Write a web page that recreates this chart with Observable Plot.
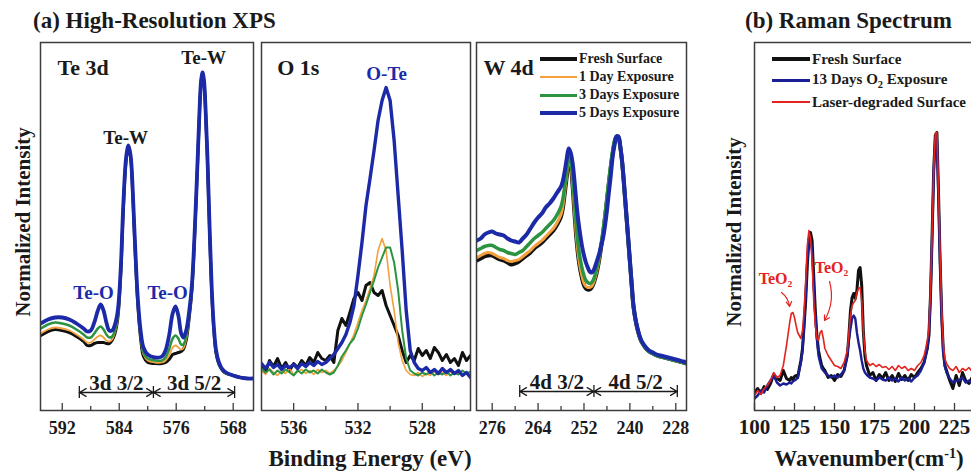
<!DOCTYPE html>
<html>
<head>
<meta charset="utf-8">
<title>High-Resolution XPS and Raman Spectrum</title>
<script src="https://cdn.jsdelivr.net/npm/d3@7"></script>
<script src="https://cdn.jsdelivr.net/npm/@observablehq/plot@0.6"></script>
<style>
html, body { margin:0; padding:0; background:#fff; overflow:hidden; }
#root { position:relative; width:971px; height:473px; overflow:hidden; background:#fff;
  font-family:"Liberation Serif","Times New Roman",Times,serif; font-weight:bold; color:#1a1a1a; }
.t { position:absolute; white-space:nowrap; line-height:1; }
.c { transform:translate(-50%,-50%); }
.v { transform:translate(-50%,-50%) rotate(-90deg); }
svg text { font-weight: bold; }
</style>
</head>
<body>
<div id="root"></div>
<script>
// ---------------- DATA ----------------
// (a) Te 3d — binding energy (eV) and normalized intensity (a.u.)
const te3dEnergy = [595,594,593,592,591,590,589,588.5,588,587.5,587,586.6,586.2,585.8,585.4,585,584.6,584.2,583.8,583.4,583,582.7,582.4,582.1,581.8,581.4,581,580.6,580,579,578,577.5,577,576.5,576.1,575.7,575.3,575,574.6,574.2,573.8,573.4,573,572.7,572.5,572.3,572.1,571.9,571.6,571.3,571,570.7,570.4,570,569.5,569,568,567,566,565.2];
const te3dFresh = [75,79,81,80,78,74,69,65,65,67, 68,68,68,67,67,70,77,92,134,205, 252,263,253,216,165,107,72,54,48,47, 47,48,51,56,57,58,59,61,70,91, 120,176,247,303,329,337,329,303,247,176, 116,79,57,46,40,37,35,33,32,32];
const te3dDay1  = [77,81,83,82,80,76,71,68,68,71, 74,75,73,70,69,71,78,93,135,206, 253,264,254,217,166,108,74,56,50,48, 48,50,55,63,65,63,61,62,71,92, 121,177,248,304,330,338,330,304,248,177, 117,80,58,47,40,37,35,33,32,32];
const te3dDay3  = [82,86,88,87,85,81,76,73,73,77, 82,84,81,76,73,74,80,95,137,208, 254,265,255,218,168,110,76,58,52,50, 50,53,61,72,75,72,66,66,74,94, 122,178,249,305,331,338,331,305,249,178, 118,81,59,47,40,37,35,33,32,32];
const te3dDay5  = [87,91,93,93,91,87,82,79,80,88, 100,106,100,88,80,80,86,100,140,210, 255,265,255,220,170,113,80,63,56,53, 54,60,75,97,104,95,77,73,80,98, 125,180,250,305,330,338,330,305,250,180, 120,82,60,48,41,38,35,33,32,32];

// (a) O 1s
const o1sEnergy = [538,537.75,537.5,537.25,537,536.75,536.5,536.25,536,535.75,535.5,535.25,535,534.75,534.5,534.25,534,533.75,533.5,533.25,533,532.75,532.5,532.25,532,531.75,531.5,531.25,531,530.75,530.5,530.25,530,529.75,529.5,529.25,529,528.75,528.5,528.25,528,527.75,527.5,527.25,527,526.75,526.5,526.25,526,525.75,525.5,525.25,525];
const o1sFresh = [45,38,50,44,52,42,48,40,47,43, 50,45,53,48,58,52,50,55,48,80, 92,85,98,112,118,110,125,128,118,115, 120,105,95,85,75,60,48,55,50,62, 55,60,52,63,58,50,56,48,52,45, 58,50,55];
const o1sDay1  = [40,36,42,38,35,40,37,42,36,39, 41,37,40,36,41,38,40,37,40,44, 50,58,67,76,88,100,110,122,135,160, 172,160,125,100,68,50,40,36,35,38, 34,37,35,39,36,38,35,39,36,38, 35,37,36];
const o1sDay3  = [42,38,41,36,40,37,41,38,35,40, 37,41,38,40,37,41,38,36,38,45, 54,60,67,72,82,95,106,118,130,143, 153,163,163,148,120,80,52,40,37,35, 38,36,39,35,38,36,39,35,38,36, 40,37,39];
const o1sDay5  = [47,42,48,43,46,41,45,43,46,42, 47,44,48,45,49,46,48,52,56,62, 68,76,88,105,135,168,205,232,260,290, 310,323,310,270,215,160,100,60,48,42, 40,43,38,41,37,42,38,41,37,40, 35,38,33];

// (a) W 4d
const w4dEnergy = [280,279,278,277,276,275,274,273,272,271, 270,269,268,267,266,265,264,263,262,261, 260,259,258,257.5,257,256.5,256,255.5,255,254.5, 254,253.5,253,252.5,252,251.5,251,250.5,250,249.5, 249,248.5,248,247.5,247,246.5,246,245.5,245,244.5, 244,243.5,243,242.5,242,241.5,241,240.5,240,239.5, 239,238,237,236,235,234,233,232,231,230, 229,228,227,226,225.2];
const w4dFresh = [150,152,154,155,155,153,151,150,148,146, 147,149,152,155,158,162,165,168,172,176, 180,186,194,203,218,234,249,245,226,198, 173,154,141,132,125,122,121,121,123,127, 133,141,151,164,177,193,210,227,243,257, 268,274,273,263,247,224,199,174,149,124, 102,81,69,63,59,57,55,54,53,52, 51,50,49,48,47];
const w4dDay1  = [153,155,157,158,157,155,153,152,150,149, 150,151,154,157,160,164,167,170,174,178, 182,188,196,205,220,236,250,246,228,200, 175,156,143,134,127,124,123,123,124,128, 134,142,152,165,178,194,211,228,244,258, 269,274,273,263,247,224,199,174,149,124, 102,81,69,63,59,57,55,54,53,52, 51,50,49,48,47];
const w4dDay3  = [160,162,164,165,165,163,161,160,158,157, 156,158,160,164,168,172,175,178,182,186, 190,196,204,212,225,240,253,250,235,210, 185,165,152,142,135,130,128,127,128,131, 137,145,155,167,180,196,213,230,246,260, 270,274,273,263,247,224,199,174,149,124, 102,81,69,63,59,57,55,54,53,52, 51,50,49,48,47];
const w4dDay5  = [170,172,176,178,179,177,176,175,172,170, 169,168,172,176,182,188,193,197,203,207, 212,218,224,230,240,252,262,258,248,230, 208,190,176,164,155,148,143,139,138,140, 145,151,157,165,173,185,200,218,235,254, 266,274,274,264,248,225,200,175,150,125, 103,82,70,64,60,58,56,55,54,53, 52,51,50,49,48];

// (b) Raman — wavenumber (cm-1) and normalized intensity
const ramanShift = [100,102,104,106,108,110,112,114,116,118, 120,122,123,124,125,126,127,128,129,130, 131,132,133,134,135,136,137,138,139,140, 141,142,143,144,146,148,150,152,154,156, 158,159,160,161,162,163,164,165,166,167, 168,169,170,172,174,176,178,180,182,184, 186,188,190,192,194,196,198,200,202,204, 206,207,208,209,210,211,212,213,214,215, 216,217,218,219,220,222,224,226,228,230, 232,234,236,238,240];
const ramanFresh = [18,22,17,24,21,27,36,32,30,40, 32,30,33,31,34,35,33,42,50,62, 85,110,145,170,178,170,135,100,75,60, 52,45,42,40,33,35,30,36,34,40, 55,75,100,113,117,112,120,140,143,125, 80,55,45,35,38,30,36,32,38,30, 35,29,37,31,35,30,36,33,38,42, 48,55,62,75,115,175,240,275,278,218, 150,95,60,45,40,30,22,35,25,38, 30,27,33,28,32];
const ramanO2    = [12,15,20,18,25,30,35,28,25,27, 26,28,27,29,30,31,33,40,48,60, 85,115,150,172,170,160,125,95,72,55, 48,42,40,38,35,33,35,33,36,40, 55,70,82,92,95,92,78,68,60,50, 42,38,36,33,32,30,33,31,30,33, 30,32,29,33,30,32,29,33,35,40, 48,55,62,75,113,172,238,273,270,213, 148,93,58,44,38,32,28,30,30,33, 28,30,27,30,28];
const ramanLaser = [15,20,16,22,25,30,38,33,35,45, 65,88,97,98,93,85,78,75,72,80, 100,130,165,180,172,150,110,85,72,70, 78,80,72,62,55,50,45,44,42,48, 60,78,95,105,108,110,118,122,123,110, 80,60,50,45,47,44,46,43,44,41, 44,40,45,42,44,40,42,40,45,48, 55,62,70,82,120,178,242,277,278,220, 155,100,66,52,47,42,40,44,38,42, 40,43,39,42,40];

// tick values
const te3dMajor = [592,584,576,568], te3dMinor = [588,580,572];
const o1sMajor = [536,532,528], o1sMinor = [534,530,526];
const w4dMajor = [276,264,252,240,228], w4dMinor = [270,258,246,234];
const ramanMajor = [100,125,150,175,200,225], ramanMinor = [112.5,137.5,162.5,187.5,212.5,237.5];

// annotations (data coordinates)
const panelNames = [{text:"Te 3d", x:592.66, y:343}, {text:"O 1s", x:537.02, y:343}, {text:"W 4d", x:278.29, y:343}];
const te3dTeW = [{text:"Te-W", x:572.15, y:353}, {text:"Te-W", x:583.1, y:273}];
const te3dTeO = [{text:"Te-O", x:587.6, y:118}, {text:"Te-O", x:577.2, y:118}];
const te3dBrackets = [{label:"3d 3/2", from:589.6, to:579.2}, {label:"3d 5/2", from:579.2, to:567.8}];
const o1sLabels = [{text:"O-Te", x:530.22, y:337}];
const w4dBrackets = [{label:"4d 3/2", from:268.8, to:249.4}, {label:"4d 5/2", from:249.4, to:227.6}];
const ramanTeO2 = [{text:"TeO\u2082", x:113.1, y:132}, {text:"TeO\u2082", x:148.1, y:143}];
const ramanArrows = [{x1:116.9, y1:118, x2:121.9, y2:104}, {x1:146.9, y1:129, x2:143.75, y2:90}];

const xpsLegend = ["Fresh Surface", "1 Day Exposure", "3 Days Exposure", "5 Days Exposure"];
const ramanLegend = ["Fresh Surface", "13 Days O<sub style=\"font-size:0.7em\">2</sub> Exposure", "Laser-degraded Surface"];

// ---------------- STYLE ----------------
const FONT = '"Liberation Serif","Times New Roman",Times,serif';
const INK = "#1a1a1a", FRAME = "#3c3c3c";
const C_BLACK = "#111111", C_ORANGE = "#f4a03c", C_GREEN = "#2c9440", C_BLUE = "#1c2aa8";
const R_BLACK = "#111111", R_BLUE = "#1a1f96", R_RED = "#e3241e";
const PLOT_H = 368;

const root = document.getElementById("root");

function addText(html, x, y, size, cls, color) {
  const d = document.createElement("div");
  d.className = "t " + (cls || "");
  d.style.left = x + "px"; d.style.top = y + "px"; d.style.fontSize = size + "px";
  if (color) d.style.color = color;
  d.innerHTML = html;
  root.appendChild(d);
}

function bracketMarks(br, level) {
  const arrows = br.flatMap(b => { const m = (b.from + b.to) / 2; return [{x1: m, x2: b.from}, {x1: m, x2: b.to}]; });
  const ends = Array.from(new Set(br.flatMap(b => [b.from, b.to])));
  return [
    Plot.arrow(arrows, {x1: "x1", x2: "x2", y1: level, y2: level, stroke: INK, strokeWidth: 1.3, headLength: 9, headAngle: 60}),
    Plot.ruleX(ends, {x: d => d, y1: level - 6, y2: level + 6, stroke: INK, strokeWidth: 1.3}),
    Plot.text(br, {x: b => (b.from + b.to) / 2, y: level + 9, text: "label", fontSize: 21, fontWeight: "bold", fill: INK})
  ];
}

function drawPanel(o) {
  const rows = vals => o.x.map((x, i) => ({x, y: vals[i]}));
  const marks = [
    ...o.series.map(s => Plot.line(rows(s.values), {x: "x", y: "y", stroke: s.color, strokeWidth: s.width, curve: o.curve, strokeLinejoin: "round", clip: true})),
    Plot.frame({stroke: FRAME, strokeWidth: 1.5}),
    Plot.axisX({ticks: o.minor, tickSize: -4, tickFormat: () => "", label: null, stroke: FRAME, strokeWidth: 1.3}),
    Plot.axisX({ticks: o.major, tickSize: -7, tickPadding: o.pad, label: null, fontSize: o.tickFont, fontWeight: "bold", stroke: FRAME, strokeWidth: 1.3, fill: INK, tickFormat: d => String(d)}),
    ...(o.extra || [])
  ];
  const svg = Plot.plot({
    width: o.width + 4, height: PLOT_H + 2 + 48,
    marginLeft: 2, marginRight: 2, marginTop: 2, marginBottom: 48,
    x: {domain: o.domain, label: null},
    y: {domain: [0, PLOT_H], axis: null},
    style: {fontFamily: FONT, fontWeight: "bold", fontSize: "18px", color: INK, background: "transparent", overflow: "visible", maxWidth: "none"},
    marks
  });
  svg.style.position = "absolute";
  svg.style.left = (o.left - 2) + "px";
  svg.style.top = (42 - 2) + "px";
  root.appendChild(svg);
}

// ---------------- PANELS ----------------
drawPanel({
  left: 40, width: 213, domain: [595.05, 565.15], x: te3dEnergy, curve: "catmull-rom",
  major: te3dMajor, minor: te3dMinor, tickFont: 18, pad: 18,
  series: [
    {values: te3dFresh, color: C_BLACK, width: 3},
    {values: te3dDay1, color: C_ORANGE, width: 1.8},
    {values: te3dDay3, color: C_GREEN, width: 2.5},
    {values: te3dDay5, color: C_BLUE, width: 3.8}
  ],
  extra: [
    Plot.text(panelNames.slice(0, 1), {x: "x", y: "y", text: "text", textAnchor: "start", fontSize: 22, fontWeight: "bold", fill: INK}),
    Plot.text(te3dTeW, {x: "x", y: "y", text: "text", fontSize: 19, fontWeight: "bold", fill: INK}),
    Plot.text(te3dTeO, {x: "x", y: "y", text: "text", fontSize: 19, fontWeight: "bold", fill: C_BLUE}),
    ...bracketMarks(te3dBrackets, 18)
  ]
});

drawPanel({
  left: 261, width: 209, domain: [538.0, 525.0], x: o1sEnergy, curve: "linear",
  major: o1sMajor, minor: o1sMinor, tickFont: 18, pad: 18,
  series: [
    {values: o1sFresh, color: C_BLACK, width: 3},
    {values: o1sDay1, color: C_ORANGE, width: 1.6},
    {values: o1sDay3, color: C_GREEN, width: 2},
    {values: o1sDay5, color: C_BLUE, width: 3.4}
  ],
  extra: [
    Plot.text(panelNames.slice(1, 2), {x: "x", y: "y", text: "text", textAnchor: "start", fontSize: 22, fontWeight: "bold", fill: INK}),
    Plot.text(o1sLabels, {x: "x", y: "y", text: "text", fontSize: 19, fontWeight: "bold", fill: C_BLUE})
  ]
});

drawPanel({
  left: 476, width: 210, domain: [280.1, 225.2], x: w4dEnergy, curve: "catmull-rom",
  major: w4dMajor, minor: w4dMinor, tickFont: 18, pad: 18,
  series: [
    {values: w4dFresh, color: C_BLACK, width: 4},
    {values: w4dDay1, color: C_ORANGE, width: 3},
    {values: w4dDay3, color: C_GREEN, width: 3.5},
    {values: w4dDay5, color: C_BLUE, width: 4}
  ],
  extra: [
    Plot.text(panelNames.slice(2, 3), {x: "x", y: "y", text: "text", textAnchor: "start", fontSize: 22, fontWeight: "bold", fill: INK}),
    ...bracketMarks(w4dBrackets, 19)
  ]
});

drawPanel({
  left: 754, width: 240, domain: [100, 250], x: ramanShift, curve: "linear",
  major: ramanMajor, minor: ramanMinor, tickFont: 21, pad: 16,
  series: [
    {values: ramanFresh, color: R_BLACK, width: 3},
    {values: ramanO2, color: R_BLUE, width: 2.4},
    {values: ramanLaser, color: R_RED, width: 1.6}
  ],
  extra: [
    Plot.text(ramanTeO2, {x: "x", y: "y", text: "text", fontSize: 16, fontWeight: "bold", fill: R_RED}),
    Plot.arrow(ramanArrows, {x1: "x1", y1: "y1", x2: "x2", y2: "y2", bend: true, stroke: R_RED, strokeWidth: 1.2, headLength: 7})
  ]
});

// ---------------- LEGENDS ----------------
function legend(labels, colors, widths, left, top, rowH, size, swW) {
  const d = document.createElement("div");
  d.style.cssText = `position:absolute;left:${left}px;top:${top}px;font-size:${size}px;line-height:1;`;
  labels.forEach((lab, i) => {
    const r = document.createElement("div");
    r.style.cssText = `display:flex;align-items:center;height:${rowH}px;white-space:nowrap;`;
    const sw = document.createElement("span");
    sw.style.cssText = `display:inline-block;width:${swW}px;height:${widths[i]}px;background:${colors[i]};margin-right:2px;flex:none;`;
    r.appendChild(sw);
    const t = document.createElement("span");
    t.innerHTML = lab;
    r.appendChild(t);
    d.appendChild(r);
  });
  root.appendChild(d);
}
legend(xpsLegend, [C_BLACK, C_ORANGE, C_GREEN, C_BLUE], [4, 2, 3, 4.5], 540, 50, 18, 14, 37);
legend(ramanLegend, [R_BLACK, R_BLUE, R_RED], [4, 3, 2], 772, 48.5, 21.5, 15, 38);

// ---------------- TITLES ----------------
addText("(a) High-Resolution XPS", 33, 9, 23, "");
addText("(b) Raman Spectrum", 745, 9, 23, "");
addText("Normalized Intensity", 23, 222, 21, "v");
addText("Normalized Intensity", 734, 232, 21, "v");
addText("Binding Energy (eV)", 370, 458, 23, "c");
addText("Wavenumber(cm<sup style=\"font-size:0.62em;vertical-align:0.55em\">-1</sup>)", 869, 458, 23, "c");
</script>
</body>
</html>
